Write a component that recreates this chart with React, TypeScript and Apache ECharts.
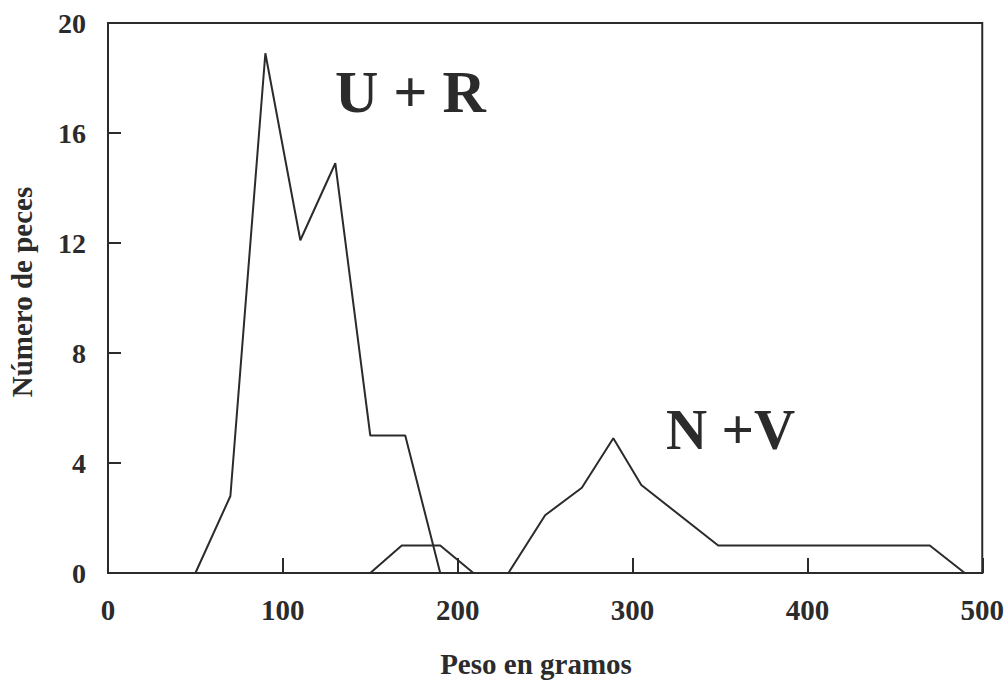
import React, { useEffect, useRef } from "react";
import * as echarts from "echarts";

const UR_X = [50, 70, 90, 110, 130, 150, 170, 190];
const UR_Y = [0, 2.8, 18.9, 12.1, 14.9, 5, 5, 0];
const NV_X = [150, 168, 190, 209, 229, 250, 271, 289, 305, 349, 470, 490];
const NV_Y = [0, 1, 1, 0, 0, 2.1, 3.1, 4.9, 3.2, 1, 1, 0];
const X_TICKS = [0, 100, 200, 300, 400, 500];
const Y_TICKS = [0, 4, 8, 12, 16, 20];
const LABEL_UR = "U + R";
const LABEL_NV = "N +V";
const X_NAME = "Peso en gramos";
const Y_NAME = "Número de peces";

const INK = "#2b2b2b";
const FONT = "'Liberation Serif', 'DejaVu Serif', serif";

export default function App() {
  const ref = useRef<HTMLDivElement>(null);
  useEffect(() => {
    if (!ref.current) return;
    const chart = echarts.init(ref.current, undefined, { renderer: "svg" });
    const pair = (xs: number[], ys: number[]) => xs.map((x, i) => [x, ys[i]]);
    chart.setOption({
      animation: false,
      backgroundColor: "#ffffff",
      grid: {
        left: 108,
        right: 17,
        top: 23,
        bottom: 107,
        show: true,
        borderColor: INK,
        borderWidth: 2,
        backgroundColor: "transparent",
      },
      xAxis: {
        type: "value",
        min: X_TICKS[0],
        max: X_TICKS[X_TICKS.length - 1],
        interval: X_TICKS[1] - X_TICKS[0],
        axisLine: { show: true, lineStyle: { color: INK, width: 2 } },
        axisTick: { show: true, inside: true, length: 15, lineStyle: { color: INK, width: 2 } },
        splitLine: { show: false },
        axisLabel: {
          color: INK,
          fontFamily: FONT,
          fontWeight: "bold",
          fontSize: 29,
          margin: 22,
        },
      },
      yAxis: {
        type: "value",
        min: Y_TICKS[0],
        max: Y_TICKS[Y_TICKS.length - 1],
        interval: Y_TICKS[1] - Y_TICKS[0],
        axisLine: { show: true, lineStyle: { color: INK, width: 2 } },
        axisTick: { show: true, inside: true, length: 13, lineStyle: { color: INK, width: 2 } },
        splitLine: { show: false },
        axisLabel: {
          color: INK,
          fontFamily: FONT,
          fontWeight: "bold",
          fontSize: 28,
          margin: 22,
        },
      },
      series: [
        {
          name: "U + R",
          type: "line",
          data: pair(UR_X, UR_Y),
          symbol: "none",
          lineStyle: { color: INK, width: 2 },
        },
        {
          name: "N + V",
          type: "line",
          data: pair(NV_X, NV_Y),
          symbol: "none",
          lineStyle: { color: INK, width: 2 },
        },
      ],
      graphic: [
        {
          type: "text",
          left: 335,
          top: 62,
          style: { text: LABEL_UR, font: `bold 60px ${FONT}`, fill: INK },
        },
        {
          type: "text",
          left: 666,
          top: 401,
          style: { text: LABEL_NV, font: `bold 57px ${FONT}`, fill: INK },
        },
        {
          type: "text",
          x: 536,
          y: 664,
          style: {
            text: X_NAME,
            font: `bold 29px ${FONT}`,
            fill: INK,
            align: "center",
            verticalAlign: "middle",
          },
        },
        {
          type: "text",
          x: 22,
          y: 292,
          rotation: Math.PI / 2,
          style: {
            text: Y_NAME,
            font: `bold 29px ${FONT}`,
            fill: INK,
            align: "center",
            verticalAlign: "middle",
          },
        },
      ],
    });
    return () => chart.dispose();
  }, []);
  return (
    <div
      ref={ref}
      style={{ position: "fixed", left: 0, top: 0, width: 1007, height: 680, background: "#fff" }}
    />
  );
}
